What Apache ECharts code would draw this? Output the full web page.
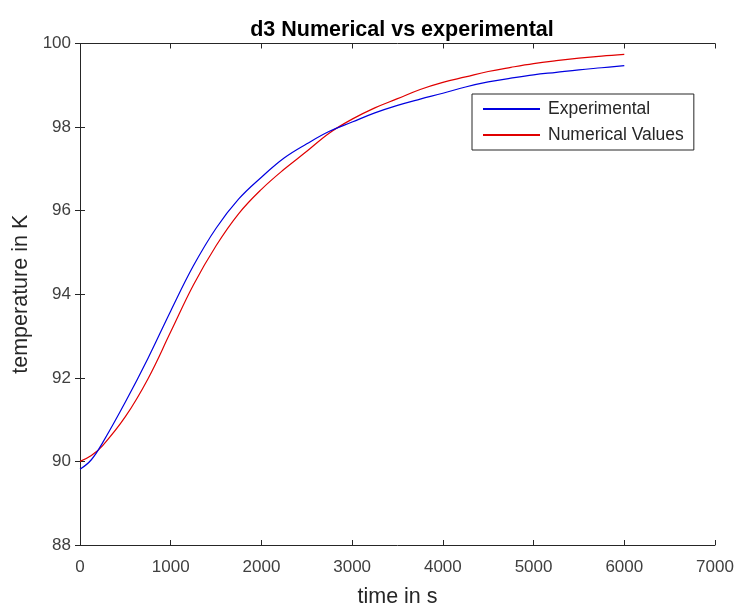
<!DOCTYPE html>
<html>
<head>
<meta charset="utf-8">
<script src="https://cdn.jsdelivr.net/npm/echarts@6/dist/echarts.min.js"></script>
<style>
  html, body { margin: 0; padding: 0; background: #fff; }
  #chart { width: 739px; height: 608px; }
</style>
</head>
<body>
<div id="chart"></div>
<script>
// Time samples (s)
const timeSeconds = [0, 125, 250, 500, 750, 1000, 1250, 1500, 1750, 2000, 2250, 2500, 2750, 3000,
  3250, 3500, 3750, 4000, 4250, 4500, 4750, 5000, 5250, 5500, 5750, 6000];

// Measured temperature (K)
const experimental = [89.81, 90.04, 90.45, 91.42, 92.47, 93.60, 94.68, 95.58, 96.28, 96.80, 97.26, 97.60, 97.90, 98.12,
  98.34, 98.52, 98.67, 98.81, 98.96, 99.08, 99.17, 99.25, 99.31, 99.37, 99.42, 99.47];

// Simulated temperature (K)
const numerical = [90.00, 90.14, 90.38, 91.07, 91.98, 93.10, 94.22, 95.16, 95.93, 96.51, 96.99, 97.42, 97.86, 98.19,
  98.46, 98.68, 98.90, 99.07, 99.20, 99.33, 99.43, 99.52, 99.59, 99.65, 99.70, 99.74];

const seriesNames = ['Experimental', 'Numerical Values'];

const pairs = (xs, ys) => xs.map((x, i) => [x, ys[i]]);

const axisColor = '#262626';
const font = '"Liberation Sans", Arial, Helvetica, sans-serif';

const chart = echarts.init(document.getElementById('chart'), null, { renderer: 'canvas' });

const boxAxis = {
  axisLine: { show: true, lineStyle: { color: axisColor, width: 1 } },
  axisTick: { show: true, inside: true, length: 5, lineStyle: { color: axisColor, width: 1 } },
  splitLine: { show: false }
};

const plain = v => String(v);

chart.setOption({
  animation: false,
  backgroundColor: '#ffffff',
  title: {
    text: 'd3 Numerical vs experimental',
    left: 397, top: 14, textAlign: 'center',
    textStyle: { fontFamily: font, fontSize: 21.5, fontWeight: 'bold', color: '#000' }
  },
  grid: { left: 80, top: 43.5, right: 24, bottom: 63, containLabel: false, outerBoundsMode: 'none' },
  legend: {
    data: seriesNames,
    orient: 'vertical',
    left: 472, top: 94,
    padding: [5, 10, 5, 11],
    itemGap: 6,
    itemWidth: 57,
    itemHeight: 2,
    icon: 'rect',
    backgroundColor: '#fff',
    borderColor: axisColor,
    borderWidth: 1,
    borderRadius: 0,
    textStyle: { fontFamily: font, fontSize: 17.5, color: '#262626', lineHeight: 20, padding: [0, 0, 0, 3] }
  },
  xAxis: [
    Object.assign({
      type: 'value', min: 0, max: 7000, interval: 1000, position: 'bottom',
      name: 'time in s', nameLocation: 'middle', nameGap: 41,
      nameTextStyle: { fontFamily: font, fontSize: 21.5, color: '#262626' },
      axisLabel: { fontFamily: font, fontSize: 17, color: '#404040', margin: 14, formatter: plain }
    }, boxAxis),
    Object.assign({
      type: 'value', min: 0, max: 7000, interval: 1000, position: 'top',
      axisLabel: { show: false }
    }, boxAxis)
  ],
  yAxis: [
    Object.assign({
      type: 'value', min: 88, max: 100, interval: 2, position: 'left',
      name: 'temperature in K', nameLocation: 'middle', nameGap: 43,
      nameTextStyle: { fontFamily: font, fontSize: 21.5, color: '#262626' },
      axisLabel: { fontFamily: font, fontSize: 17, color: '#404040', margin: 9, formatter: plain }
    }, boxAxis),
    Object.assign({
      type: 'value', min: 88, max: 100, interval: 2, position: 'right',
      axisLabel: { show: false }
    }, boxAxis)
  ],
  series: [
    {
      name: seriesNames[0], type: 'line', smooth: 0.4, symbol: 'none',
      data: pairs(timeSeconds, experimental),
      lineStyle: { color: '#0000e0', width: 1.2 }, itemStyle: { color: '#0000e0' }, z: 3
    },
    {
      name: seriesNames[1], type: 'line', smooth: 0.4, symbol: 'none',
      data: pairs(timeSeconds, numerical),
      lineStyle: { color: '#e00000', width: 1.2 }, itemStyle: { color: '#e00000' }, z: 2
    }
  ]
});
</script>
</body>
</html>
